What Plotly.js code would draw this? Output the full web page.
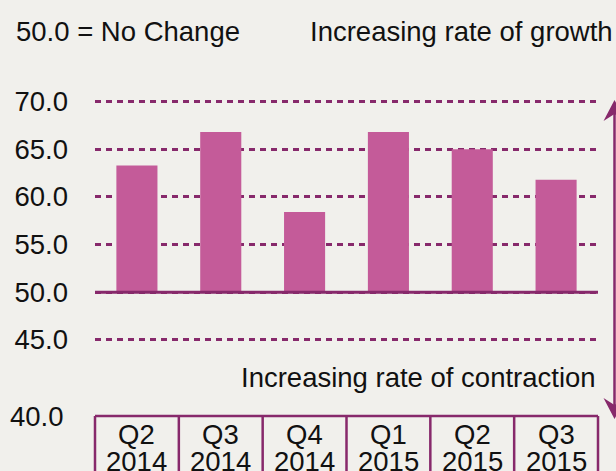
<!DOCTYPE html>
<html>
<head>
<meta charset="utf-8">
<script src="https://cdn.plot.ly/plotly-3.0.1.min.js"></script>
<style>
  html, body { margin: 0; padding: 0; background: #F1F0EC; }
  #chart { width: 616px; height: 471px; }
</style>
</head>
<body>
<div id="chart"></div>
<script>
// ---- data ----
const quarters = ['Q2', 'Q3', 'Q4', 'Q1', 'Q2', 'Q3'];
const years = ['2014', '2014', '2014', '2015', '2015', '2015'];
const values = [63.3, 66.8, 58.4, 66.8, 65.0, 61.8];
const baseline = 50;
const yTicks = [45, 50, 55, 60, 65, 70];
const bottomLabel = '40.0';
const noteText = '50.0 = No Change';
const growthText = 'Increasing rate of growth';
const contractionText = 'Increasing rate of contraction';

// ---- styling ----
const BG = '#F1F0EC';
const PURPLE = '#87296B';
const PINK = '#C45B99';
const FONT = 'Liberation Sans, Arial, Helvetica, sans-serif';
const FS = 27.5;
const TXT = '#111111';

const categories = quarters.map((q, i) => q + ' ' + years[i]);

const trace = {
  type: 'bar',
  x: categories,
  y: values.map(v => v - baseline),
  base: baseline,
  marker: { color: PINK, line: { width: 0 } },
  hoverinfo: 'skip'
};

// pixel -> paper helpers (plot area: x 95..598, y 73..416)
const L = 95, R = 18, T = 73, B = 55, W = 616, H = 471;
const PW = W - L - R, PH = H - T - B;
const px = v => (v - L) / PW;
const py = v => (H - B - v) / PH;

const shapes = [];
// solid "no change" line
shapes.push({ type: 'line', xref: 'paper', yref: 'y', x0: 0, x1: 1, y0: baseline, y1: baseline,
  line: { color: PURPLE, width: 3 }, layer: 'above' });
// table under the chart
shapes.push({ type: 'line', xref: 'paper', yref: 'paper', x0: 0, x1: 1, y0: 0, y1: 0,
  line: { color: PURPLE, width: 2.5 } });
for (let k = 0; k <= categories.length; k++) {
  shapes.push({ type: 'line', xref: 'paper', yref: 'paper', x0: k / categories.length, x1: k / categories.length,
    y0: 0, y1: -0.3, line: { color: PURPLE, width: 2.5 } });
}
// double-headed arrow on the right
const ax = 614.5;
shapes.push({ type: 'line', xref: 'paper', yref: 'paper', x0: px(ax), x1: px(ax), y0: py(110), y1: py(410),
  line: { color: PURPLE, width: 2.5 } });
shapes.push({ type: 'path', xref: 'paper', yref: 'paper',
  path: `M${px(ax)},${py(100)} L${px(ax - 11)},${py(121)} L${px(ax)},${py(114)} L${px(ax + 11)},${py(121)} Z`,
  fillcolor: PURPLE, line: { width: 0 } });
shapes.push({ type: 'path', xref: 'paper', yref: 'paper',
  path: `M${px(ax)},${py(419)} L${px(ax - 11)},${py(398)} L${px(ax)},${py(405)} L${px(ax + 11)},${py(398)} Z`,
  fillcolor: PURPLE, line: { width: 0 } });

const annFont = { family: FONT, size: FS, color: TXT };
const annotations = [
  { text: noteText, xref: 'paper', yref: 'paper', x: px(13.7), y: py(32), xanchor: 'left', yanchor: 'middle', showarrow: false, font: annFont },
  { text: growthText, xref: 'paper', yref: 'paper', x: px(615), y: py(32), xanchor: 'right', yanchor: 'middle', showarrow: false, font: annFont },
  { text: contractionText, xref: 'paper', yref: 'paper', x: px(598), y: py(377), xanchor: 'right', yanchor: 'middle', showarrow: false, font: annFont },
  { text: bottomLabel, xref: 'paper', yref: 'paper', x: px(66), y: py(416), xanchor: 'right', yanchor: 'middle', showarrow: false, font: annFont }
];
// table cell labels (quarter over year)
categories.forEach((c, i) => {
  annotations.push({ text: quarters[i], xref: 'x', yref: 'paper', x: c, y: py(434), xanchor: 'center', yanchor: 'middle', showarrow: false, font: annFont });
  annotations.push({ text: years[i], xref: 'x', yref: 'paper', x: c, y: py(461), xanchor: 'center', yanchor: 'middle', showarrow: false, font: annFont });
});

const layout = {
  width: W, height: H,
  margin: { l: L, r: R, t: T, b: B, pad: 0 },
  paper_bgcolor: BG, plot_bgcolor: BG,
  showlegend: false,
  bargap: 0.51,
  font: { family: FONT, size: FS, color: TXT },
  xaxis: {
    type: 'category', range: [-0.5, 5.5], fixedrange: true,
    showgrid: false, showline: false, zeroline: false, ticks: '',
    showticklabels: false
  },
  yaxis: {
    range: [37, 73], fixedrange: true,
    tickvals: yTicks, tickformat: '.1f',
    showgrid: true, gridcolor: PURPLE, gridwidth: 3, griddash: '6px,5px',
    zeroline: false, showline: false, ticks: '',
    tickfont: { family: FONT, size: FS, color: TXT },
    ticklabelstandoff: 26
  },
  shapes: shapes,
  annotations: annotations
};

Plotly.newPlot('chart', [trace], layout, { displayModeBar: false, staticPlot: true });
</script>
</body>
</html>
